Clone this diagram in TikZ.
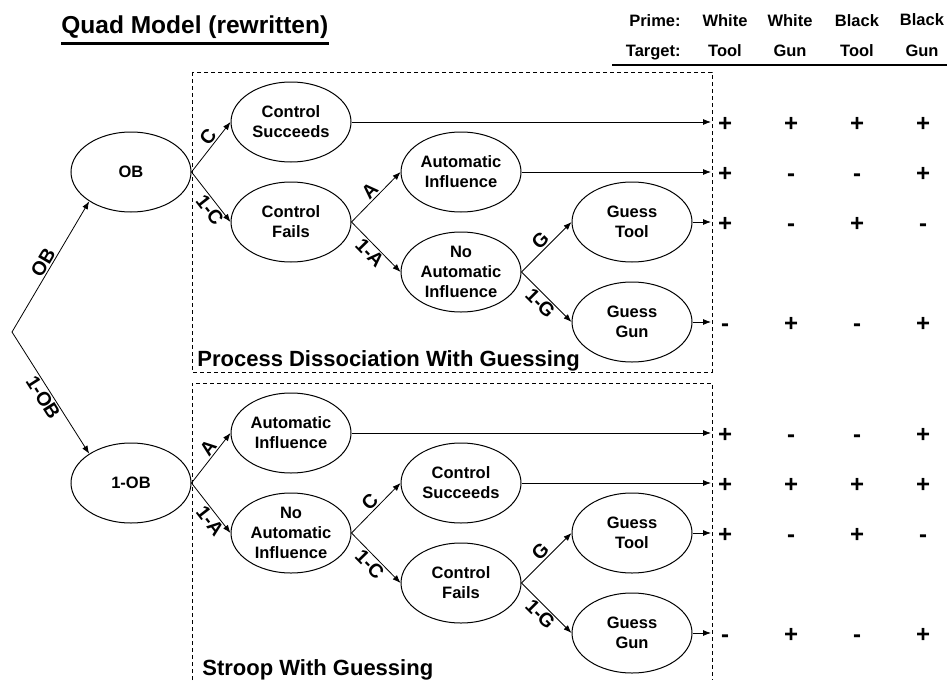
\documentclass[tikz,border=0pt]{standalone}
\usepackage{fontspec}
\setmainfont{Liberation Sans}
\usetikzlibrary{arrows.meta,shapes.geometric}
\tikzset{> = {Latex[length=8pt,width=6pt]}}
\tikzset{state/.style={ellipse,draw,line width=1pt,minimum width=120pt,minimum height=80pt,
    inner sep=0pt,align=center,font=\fontsize{16.5}{20}\selectfont\bfseries},
  prob/.style={sloped,inner sep=1.5pt,font=\fontsize{19.5}{19.5}\selectfont\bfseries},
  sign/.style={anchor=base,inner sep=0pt,font=\fontsize{24}{24}\selectfont\bfseries},
  head/.style={anchor=base,inner sep=0pt,font=\fontsize{16.5}{16.5}\selectfont\bfseries},
  region/.style={dash pattern=on 4pt off 3pt,line width=0.9pt},
  boxlabel/.style={anchor=base west,inner sep=0pt,font=\fontsize{22}{22}\selectfont\bfseries}}

\begin{document}
\begin{tikzpicture}[x=1pt,y=-1pt,line width=0.8pt]
	\useasboundingbox (0,0) rectangle (947,680);
	% title and table head
	\node[anchor=base west,inner sep=0pt,font=\fontsize{24.5}{24.5}\selectfont\bfseries] (title) at (61,33) {Quad Model (rewritten)};
	\draw[line width=3pt] ([yshift=-5.5pt]title.south west) -- ([yshift=-5.5pt]title.south east);
	\node[head,anchor=base east] (prime) at (681,27) {Prime:};
	\node[head,anchor=base east] (target) at (681,56) {Target:};
	\foreach \x/\y/\p/\t [count=\i] in {725/27/White/Tool,790/27/White/Gun,857/27/Black/Tool,922/25/Black/Gun}{
		\node[head] (p\i) at (\x,\y) {\p};
		\node[head] (t\i) at (\x,56) {\t};
	}
	\draw[line width=1.2pt] (612,65) -- (947,65);
	% dashed regions
	\draw[region] (192,72) rectangle (712,372);
	\draw[region] (192,680) -- (192,383) -- (712,383) -- (712,680);
	\node[boxlabel] (pdg) at (197,366) {Process Dissociation With Guessing};
	\node[boxlabel] (swg) at (202,675) {Stroop With Guessing};
	% upper tree
	\coordinate (root) at (12,332);
	\node[state] (ob) at (131,172) {OB};
	\node[state] (cs1) at (291,122) {Control\\Succeeds};
	\node[state] (cf1) at (291,222) {Control\\Fails};
	\node[state] (ai1) at (461,172) {Automatic\\Influence};
	\node[state] (na1) at (461,272) {No\\Automatic\\Influence};
	\node[state] (gt1) at (632,222) {Guess\\Tool};
	\node[state] (gg1) at (632,322) {Guess\\Gun};
	% lower tree
	\node[state] (nob) at (131,483) {1-OB};
	\node[state] (ai2) at (291,433) {Automatic\\Influence};
	\node[state] (na2) at (291,533) {No\\Automatic\\Influence};
	\node[state] (cs2) at (461,483) {Control\\Succeeds};
	\node[state] (cf2) at (461,583) {Control\\Fails};
	\node[state] (gt2) at (632,533) {Guess\\Tool};
	\node[state] (gg2) at (632,633) {Guess\\Gun};
	% branches
	\draw[->] (root) -- node[prob,above] {OB} (ob.-145);
	\draw[->] (root) -- node[prob,below] {1-OB} (nob.145);
	\draw[->] (ob.east) -- node[prob,above,pos=.6] {C} (cs1.west);
	\draw[->] (ob.east) -- node[prob,below,pos=.65] {1-C} (cf1.west);
	\draw[->] (cf1.east) -- node[prob,above] {A} (ai1.west);
	\draw[->] (cf1.east) -- node[prob,below] {1-A} (na1.west);
	\draw[->] (na1.east) -- node[prob,above] {G} (gt1.west);
	\draw[->] (na1.east) -- node[prob,below] {1-G} (gg1.west);
	\draw[->] (nob.east) -- node[prob,above,pos=.6] {A} (ai2.west);
	\draw[->] (nob.east) -- node[prob,below,pos=.65] {1-A} (na2.west);
	\draw[->] (na2.east) -- node[prob,above] {C} (cs2.west);
	\draw[->] (na2.east) -- node[prob,below] {1-C} (cf2.west);
	\draw[->] (cf2.east) -- node[prob,above] {G} (gt2.west);
	\draw[->] (cf2.east) -- node[prob,below] {1-G} (gg2.west);
	% outcomes
	\foreach \n/\y in {cs1/122,ai1/172,gt1/222,gg1/322,ai2/433,cs2/483,gt2/533,gg2/633}{
		\coordinate (out-\n) at (711,\y);
		\draw[->] (\n.east) -- (out-\n);
	}
	\foreach \y/\a/\b/\c/\d [count=\r] in {122/+/+/+/+,172/+/-/-/+,222/+/-/+/-,322/-/+/-/+,
		433/+/-/-/+,483/+/+/+/+,533/+/-/+/-,633/-/+/-/+}{
		\node[sign] (s\r-1) at (725,\y+9) {\a};
		\node[sign] (s\r-2) at (791,\y+9) {\b};
		\node[sign] (s\r-3) at (857,\y+9) {\c};
		\node[sign] (s\r-4) at (923,\y+9) {\d};
	}
\end{tikzpicture}
\end{document}
